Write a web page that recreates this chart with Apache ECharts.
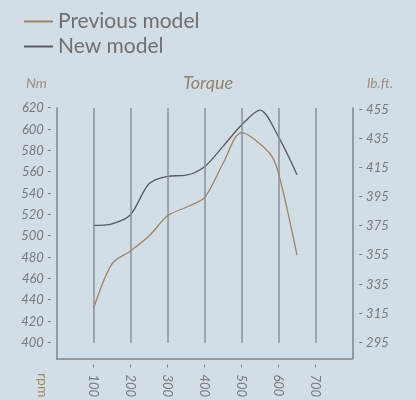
<!DOCTYPE html>
<html><head><meta charset="utf-8">
<script src="https://cdn.jsdelivr.net/npm/echarts@6/dist/echarts.min.js"></script>
<style>html,body{margin:0;padding:0;background:#d3dde5;}#c{width:416px;height:400px;}</style>
</head><body><div id="c"></div>
<script>
const seriesNames = ['Previous model', 'New model'];
const prevRpm = [100, 150, 200, 250, 300, 350, 400, 450, 500, 575, 600, 650];
const prevTorque = [432, 474, 486, 500, 519, 527, 536, 568, 597, 578, 559, 482];
const newRpm = [100, 150, 200, 250, 300, 350, 400, 450, 500, 550, 600, 650];
const newTorque = [510, 511.5, 520, 549, 556, 557, 565, 584, 604, 618, 593, 557.5];
const gridRpm = [100, 200, 300, 400, 500, 600, 700];
const nmTicks = [400, 420, 440, 460, 480, 500, 520, 540, 560, 580, 600, 620];
const lbftTicks = [295, 315, 335, 355, 375, 395, 415, 435, 455];

const FONT = 'Lato, "Open Sans", sans-serif';
const textGrey = '#77797c';
const tan = '#8f8372';
const prevColor = '#9b8569';
const newColor = '#575b60';
const axisColor = '#808387';
const gridColor = '#8b8f94';

const chart = echarts.init(document.getElementById('c'), null, {renderer: 'canvas'});
const gridLines = gridRpm.map(v => [{coord: [v, 620]}, {coord: [v, 400]}]);

chart.setOption({
  backgroundColor: '#d3dde5',
  animation: false,
  textStyle: {fontFamily: FONT},
  legend: {
    orient: 'vertical', left: 19, top: 4, itemGap: 0,
    itemWidth: 29, itemHeight: 2, icon: 'rect',
    textStyle: {fontFamily: FONT, fontSize: 21, color: '#6e6f71', lineHeight: 25},
    data: [
      {name: seriesNames[0], itemStyle: {color: prevColor}},
      {name: seriesNames[1], itemStyle: {color: newColor}}
    ]
  },
  grid: {left: 56.5, right: 63.5, top: 108, bottom: 40, containLabel: false},
  graphic: [
    {type: 'text', left: 'center', top: 74, style: {text: 'Torque', font: 'italic 18px ' + FONT, fill: tan}},
    {type: 'text', x: 26, y: 76, style: {text: 'Nm', font: 'italic 14px ' + FONT, fill: '#9a8f80'}},
    {type: 'text', x: 367, y: 76, style: {text: 'lb.ft.', font: 'italic 14px ' + FONT, fill: '#9a8f80'}},
    {type: 'text', x: 50, y: 373, rotation: -Math.PI / 2, style: {text: 'rpm', font: '14px ' + FONT, fill: '#a08a6a'}}
  ],
  xAxis: {
    type: 'value', min: 0, max: 800, interval: 100,
    axisLine: {show: true, lineStyle: {color: axisColor, width: 1.5}},
    axisTick: {show: false},
    splitLine: {show: false},
    axisLabel: {
      rotate: -90, margin: 5, color: textGrey, fontStyle: 'italic', fontSize: 13, fontFamily: FONT,
      formatter: v => gridRpm.indexOf(v) >= 0 ? '-  ' + v : ''
    }
  },
  yAxis: [
    {
      type: 'value', min: 385, max: 620, interval: 5, position: 'left',
      axisLine: {show: true, lineStyle: {color: axisColor, width: 1.5}},
      axisTick: {show: false}, splitLine: {show: false},
      axisLabel: {
        interval: 0, margin: 5, color: textGrey, fontStyle: 'italic', fontSize: 13, fontFamily: FONT,
        formatter: v => nmTicks.indexOf(Math.round(v)) >= 0 ? Math.round(v) + ' -' : ''
      }
    },
    {
      type: 'value', min: 284, max: 456, interval: 1, position: 'right',
      axisLine: {show: true, lineStyle: {color: axisColor, width: 1.5}},
      axisTick: {show: false}, splitLine: {show: false},
      axisLabel: {
        interval: 0, margin: 6, color: textGrey, fontStyle: 'italic', fontSize: 13, fontFamily: FONT,
        formatter: v => lbftTicks.indexOf(Math.round(v)) >= 0 ? '- ' + Math.round(v) : ''
      }
    }
  ],
  series: [
    {
      name: seriesNames[0], type: 'line', smooth: 0.3, symbol: 'none',
      lineStyle: {color: prevColor, width: 1.3}, itemStyle: {color: prevColor},
      data: prevRpm.map((x, i) => [x, prevTorque[i]]),
      markLine: {
        silent: true, symbol: 'none', label: {show: false},
        lineStyle: {color: gridColor, width: 1.5, type: 'solid'},
        data: gridLines
      },
      z: 3
    },
    {
      name: seriesNames[1], type: 'line', smooth: 0.3, symbol: 'none',
      lineStyle: {color: newColor, width: 1.3}, itemStyle: {color: newColor},
      data: newRpm.map((x, i) => [x, newTorque[i]]),
      z: 4
    }
  ]
});
</script></body></html>
